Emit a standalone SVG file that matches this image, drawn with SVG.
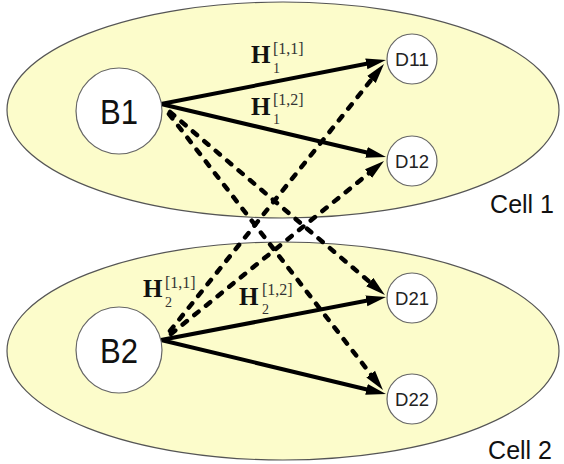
<svg xmlns="http://www.w3.org/2000/svg" width="564" height="464" viewBox="0 0 564 464">
<defs>
<marker id="ah" markerUnits="userSpaceOnUse" markerWidth="22" markerHeight="14" viewBox="0 0 22 14" refX="8" refY="7" orient="auto">
<path d="M0,1.5 L20,7 L0,12.5 Z" fill="#000"/>
</marker>
<style>
.cell{fill:#fcfccb;stroke:#555;stroke-width:1.2}
.node{fill:#fff;stroke:#666;stroke-width:1.2}
.big{font-family:"Liberation Sans",Arial,sans-serif;font-size:35px;fill:#111;text-anchor:middle}
.small{font-family:"Liberation Sans",Arial,sans-serif;font-size:18px;fill:#222;text-anchor:middle}
.cl{font-family:"Liberation Sans",Arial,sans-serif;font-size:25px;fill:#111;text-anchor:end}
.H{font-family:"Liberation Serif","Times New Roman",serif;font-size:25px;font-weight:bold;fill:#111}
.sup{font-family:"Liberation Serif","Times New Roman",serif;font-size:16px;fill:#333}
.sub{font-family:"Liberation Serif","Times New Roman",serif;font-size:14px;fill:#333}
.solid{stroke:#000;stroke-width:4;fill:none;marker-end:url(#ah)}
.dash{stroke:#000;stroke-width:4.5;fill:none;stroke-dasharray:5.5 9.5;stroke-linecap:round;marker-end:url(#ah)}
</style>
</defs>
<g id="cell1"><ellipse class="cell" cx="283" cy="110" rx="276" ry="108"/><text class="cl" x="554" y="213">Cell 1</text></g>
<g id="cell2"><ellipse class="cell" cx="283" cy="351" rx="276" ry="109"/><text class="cl" x="552" y="459">Cell 2</text></g>
<g id="connectors">
<line class="solid" x1="161" y1="104" x2="374.2" y2="62.3"/>
<line class="solid" x1="161" y1="104" x2="374.3" y2="154.2"/>
<line class="dash" x1="170" y1="112" x2="375.8" y2="287.2"/>
<line class="dash" x1="169" y1="114" x2="375.6" y2="380.5"/>
<line class="dash" x1="170" y1="331" x2="376.5" y2="73.3"/>
<line class="dash" x1="171" y1="334" x2="374.7" y2="168.6"/>
<line class="solid" x1="161" y1="340" x2="374.2" y2="299.3"/>
<line class="solid" x1="161" y1="340" x2="374.3" y2="391.2"/>
</g>
<g id="B1"><circle class="node" cx="119" cy="111" r="43"/><text class="big" x="119" y="124" textLength="38" lengthAdjust="spacingAndGlyphs">B1</text></g>
<g id="B2"><circle class="node" cx="119" cy="350" r="43"/><text class="big" x="119" y="363" textLength="38" lengthAdjust="spacingAndGlyphs">B2</text></g>
<g id="D11"><circle class="node" cx="412" cy="59" r="25"/><text class="small" x="412" y="65.5" textLength="34" lengthAdjust="spacingAndGlyphs">D11</text></g>
<g id="D12"><circle class="node" cx="412" cy="161" r="25"/><text class="small" x="412" y="167.5" textLength="34" lengthAdjust="spacingAndGlyphs">D12</text></g>
<g id="D21"><circle class="node" cx="412" cy="298" r="25"/><text class="small" x="412" y="304.5" textLength="34" lengthAdjust="spacingAndGlyphs">D21</text></g>
<g id="D22"><circle class="node" cx="412" cy="399" r="25"/><text class="small" x="412" y="405.5" textLength="34" lengthAdjust="spacingAndGlyphs">D22</text></g>
<g id="labels">
<text class="H" x="251" y="63">H</text><text class="sup" x="273" y="54">[1,1]</text><text class="sub" x="273" y="73">1</text>
<text class="H" x="251" y="115">H</text><text class="sup" x="273" y="105">[1,2]</text><text class="sub" x="273" y="124">1</text>
<text class="H" x="143" y="297">H</text><text class="sup" x="165" y="288">[1,1]</text><text class="sub" x="165" y="307">2</text>
<text class="H" x="239" y="305">H</text><text class="sup" x="262" y="295">[1,2]</text><text class="sub" x="262" y="314">2</text>
</g>
</svg>
